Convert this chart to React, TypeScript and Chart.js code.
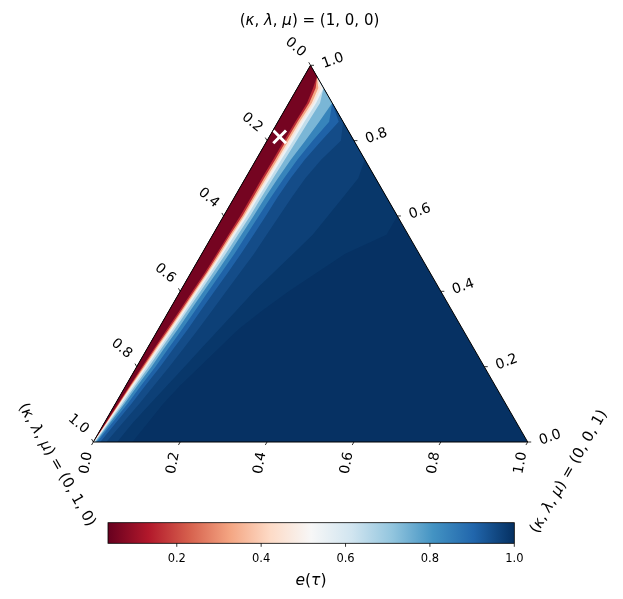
import React, { useEffect, useRef } from "react";
import { Chart, registerables } from "chart.js";

Chart.register(...registerables);

// ---- data ----
// κ rows (top vertex κ=1 down to bottom edge κ=0)
const kappaRows = [1.0, 0.97, 0.94, 0.9, 0.85, 0.8, 0.75, 0.7, 0.65, 0.6, 0.55, 0.5, 0.45, 0.4, 0.35, 0.3, 0.25, 0.2, 0.15, 0.1, 0.05, 0.0];

// μ position (distance from the left edge μ=0) where e(τ) crosses each level, per κ row.
// Value 1 = level not reached in that row (region fills up to the right edge).
const muLevel99 = [1, 1, 1, 1, 1, 1, 1, 1, 1, 1, 0.40, 0.33, 0.29, 0.25, 0.215, 0.185, 0.165, 0.145, 0.125, 0.11, 0.10, 0.09];
const muLevel97 = [1, 1, 1, 1, 1, 1, 1, 0.26, 0.25, 0.24, 0.23, 0.21, 0.19, 0.17, 0.155, 0.14, 0.125, 0.11, 0.095, 0.08, 0.065, 0.055];
const muLevel95 = [1, 1, 1, 1, 1, 0.17, 0.15, 0.138, 0.132, 0.128, 0.124, 0.12, 0.113, 0.106, 0.099, 0.092, 0.084, 0.075, 0.065, 0.055, 0.042, 0.03];
const muLevel88 = [1, 1, 1, 1, 0.14, 0.125, 0.112, 0.104, 0.099, 0.097, 0.094, 0.09, 0.085, 0.079, 0.073, 0.068, 0.061, 0.054, 0.045, 0.037, 0.026, 0.016];
const muLevel79 = [1, 1, 1, 1, 0.118, 0.105, 0.095, 0.089, 0.084, 0.081, 0.078, 0.075, 0.07, 0.065, 0.06, 0.055, 0.049, 0.043, 0.035, 0.028, 0.018, 0.009];
const muLevel69 = [1, 1, 1, 1, 0.095, 0.088, 0.08, 0.075, 0.071, 0.069, 0.066, 0.063, 0.059, 0.054, 0.049, 0.045, 0.039, 0.034, 0.027, 0.021, 0.013, 0.006];
const muLevel60 = [1, 1, 1, 0.072, 0.07, 0.068, 0.066, 0.064, 0.062, 0.061, 0.058, 0.055, 0.051, 0.047, 0.042, 0.038, 0.033, 0.028, 0.022, 0.017, 0.01, 0.004];
const muLevel50 = [1, 1, 0.06, 0.063, 0.061, 0.06, 0.058, 0.057, 0.055, 0.054, 0.051, 0.048, 0.045, 0.041, 0.037, 0.033, 0.028, 0.023, 0.018, 0.013, 0.008, 0.002];
const muLevel40 = [1, 1, 0.054, 0.058, 0.055, 0.054, 0.053, 0.052, 0.051, 0.05, 0.047, 0.045, 0.042, 0.038, 0.034, 0.03, 0.025, 0.02, 0.015, 0.011, 0.006, 0.001];
const muLevel27 = [1, 1, 0.048, 0.053, 0.05, 0.049, 0.049, 0.048, 0.047, 0.047, 0.044, 0.042, 0.039, 0.035, 0.031, 0.027, 0.022, 0.018, 0.013, 0.009, 0.005, 0];
const muLevel18 = [1, 1, 0.042, 0.047, 0.045, 0.044, 0.044, 0.043, 0.043, 0.043, 0.04, 0.038, 0.036, 0.032, 0.028, 0.024, 0.019, 0.015, 0.011, 0.008, 0.004, 0];
const muLevel10 = [1, 1, 0.036, 0.042, 0.04, 0.039, 0.039, 0.038, 0.038, 0.038, 0.036, 0.034, 0.032, 0.028, 0.024, 0.02, 0.016, 0.012, 0.009, 0.006, 0.003, 0];

// e(τ) shown in each region (outermost first), and background value
const bandLevels = [muLevel99, muLevel97, muLevel95, muLevel88, muLevel79, muLevel69, muLevel60, muLevel50, muLevel40, muLevel27, muLevel18, muLevel10];
const bandValues = [0.988, 0.972, 0.95, 0.91, 0.84, 0.74, 0.64, 0.55, 0.45, 0.33, 0.16, 0.055];
const backgroundValue = 0.998;

// marker (κ, μ)
const markerKappa = [0.81];
const markerMu = [0.024];

// axes
const ternaryTicks = [0.0, 0.2, 0.4, 0.6, 0.8, 1.0];
const cornerValues = [[1, 0, 0], [0, 1, 0], [0, 0, 1]];
const colorbarTicks = [0.2, 0.4, 0.6, 0.8, 1.0];
const colorMin = 0.037;
const colorMax = 1.0;

// RdBu colormap stops
const rdbuStops = ["#67001f", "#b2182b", "#d6604d", "#f4a582", "#fddbc7", "#f7f7f7", "#d1e5f0", "#92c5de", "#4393c3", "#2166ac", "#053061"];

function hexToRgb(h: string) {
  return [parseInt(h.slice(1, 3), 16), parseInt(h.slice(3, 5), 16), parseInt(h.slice(5, 7), 16)];
}
function cmap(v: number) {
  let n = (v - colorMin) / (colorMax - colorMin);
  n = Math.max(0, Math.min(1, n));
  const pos = n * 10;
  const i = Math.min(9, Math.floor(pos));
  const t = pos - i;
  const a = hexToRgb(rdbuStops[i]);
  const b = hexToRgb(rdbuStops[i + 1]);
  const c = a.map((x, j) => Math.round(x + (b[j] - x) * t));
  return `rgb(${c[0]},${c[1]},${c[2]})`;
}

// ternary (κ, μ) -> cartesian data coords
const tx = (k: number, m: number) => m + k / 2;

function contourPolygon(mu: number[]) {
  const pts = kappaRows.map((k, i) => {
    const m = Math.min(mu[i], 1 - k);
    return { x: tx(k, m), y: k };
  });
  pts.push({ x: 0, y: 0 });
  pts.push({ x: 0.5, y: 1 });
  return pts;
}

type Part = [string, boolean];
function drawRich(ctx: CanvasRenderingContext2D, parts: Part[], cx: number, cy: number, rotDeg: number, size: number) {
  ctx.save();
  ctx.translate(cx, cy);
  ctx.rotate((rotDeg * Math.PI) / 180);
  ctx.textBaseline = "middle";
  ctx.textAlign = "left";
  let total = 0;
  const widths = parts.map(([s, it]) => {
    ctx.font = `${it ? "italic " : ""}${size}px "DejaVu Sans"`;
    const w = ctx.measureText(s).width;
    total += w;
    return w;
  });
  let x = -total / 2;
  parts.forEach(([s, it], i) => {
    ctx.font = `${it ? "italic " : ""}${size}px "DejaVu Sans"`;
    ctx.fillStyle = "#000";
    ctx.fillText(s, x, 0);
    x += widths[i];
  });
  ctx.restore();
}

function cornerParts(v: number[]): Part[] {
  return [["(", false], ["κ", true], [", ", false], ["λ", true], [", ", false], ["μ", true], [") = (" + v.join(", ") + ")", false]];
}

const decorPlugin = {
  id: "ternaryDecor",
  afterDatasetsDraw(chart: any) {
    const ctx: CanvasRenderingContext2D = chart.ctx;
    const xs = chart.scales.x;
    const ys = chart.scales.y;
    const P = (k: number, m: number) => ({ x: xs.getPixelForValue(tx(k, m)), y: ys.getPixelForValue(k) });
    ctx.save();
    // triangle border
    const top = P(1, 0), bl = P(0, 0), br = P(0, 1);
    ctx.beginPath();
    ctx.moveTo(top.x, top.y);
    ctx.lineTo(bl.x, bl.y);
    ctx.lineTo(br.x, br.y);
    ctx.closePath();
    ctx.strokeStyle = "#000";
    ctx.lineWidth = 1;
    ctx.stroke();

    const tickLen = 3.5;
    const rt3 = Math.sqrt(3) / 2;
    ctx.lineWidth = 0.8;
    ternaryTicks.forEach((t) => {
      const label = t.toFixed(1);
      // bottom axis: μ
      let p = P(0, t);
      ctx.beginPath();
      ctx.moveTo(p.x, p.y);
      ctx.lineTo(p.x - 0.5 * tickLen, p.y + rt3 * tickLen);
      ctx.stroke();
      drawRich(ctx, [[label, false]], p.x - 7, p.y + 21, -80, 14);
      // right axis: κ
      p = P(t, 1 - t);
      ctx.beginPath();
      ctx.moveTo(p.x, p.y);
      ctx.lineTo(p.x + tickLen, p.y);
      ctx.stroke();
      drawRich(ctx, [[label, false]], p.x + 22.5, p.y - 4.5, -20, 14);
      // left axis: λ
      p = P(1 - t, 0);
      ctx.beginPath();
      ctx.moveTo(p.x, p.y);
      ctx.lineTo(p.x - 0.5 * tickLen, p.y - rt3 * tickLen);
      ctx.stroke();
      drawRich(ctx, [[label, false]], p.x - 15, p.y - 18, 40, 14);
    });

    // corner labels
    drawRich(ctx, cornerParts(cornerValues[0]), top.x - 1, top.y - 44.6, 0, 15);
    drawRich(ctx, cornerParts(cornerValues[1]), bl.x - 36.6, bl.y + 23, 60, 15);
    drawRich(ctx, cornerParts(cornerValues[2]), br.x + 41.3, br.y + 29.7, -60, 15);

    // colorbar
    const cbL = 108, cbR = 514.3, cbT = 522.7, cbB = 543.3;
    const grad = ctx.createLinearGradient(cbL, 0, cbR, 0);
    rdbuStops.forEach((c, i) => grad.addColorStop(i / 10, c));
    ctx.fillStyle = grad;
    ctx.fillRect(cbL, cbT, cbR - cbL, cbB - cbT);
    ctx.strokeStyle = "#000";
    ctx.lineWidth = 0.8;
    ctx.strokeRect(cbL, cbT, cbR - cbL, cbB - cbT);
    colorbarTicks.forEach((v) => {
      const x = cbL + ((v - colorMin) / (colorMax - colorMin)) * (cbR - cbL);
      ctx.beginPath();
      ctx.moveTo(x, cbB);
      ctx.lineTo(x, cbB + 3.5);
      ctx.stroke();
      drawRich(ctx, [[v.toFixed(1), false]], x, 559.3, 0, 11.5);
    });
    drawRich(ctx, [["e", true], ["(", false], ["τ", true], [")", false]], 311, 581, 0, 15.5);
    ctx.restore();
  },
};

export default function App() {
  const ref = useRef<HTMLCanvasElement | null>(null);
  useEffect(() => {
    if (!ref.current) return;
    const datasets: any[] = [];
    datasets.push({
      label: "marker",
      data: markerKappa.map((k, i) => ({ x: tx(k, markerMu[i]), y: k })),
      showLine: false,
      pointStyle: "crossRot",
      pointRadius: 9,
      pointBorderWidth: 3,
      pointBorderColor: "#ffffff",
      pointBackgroundColor: "#ffffff",
      order: 0,
    });
    for (let i = bandLevels.length - 1; i >= 0; i--) {
      datasets.push({
        label: "e<" + bandValues[i],
        data: contourPolygon(bandLevels[i]),
        backgroundColor: cmap(bandValues[i]),
        borderWidth: 0,
        pointRadius: 0,
        fill: "shape",
        tension: 0,
        order: bandLevels.length - i,
      });
    }
    datasets.push({
      label: "background",
      data: [
        { x: 0.5, y: 1 },
        { x: 1, y: 0 },
        { x: 0, y: 0 },
        { x: 0.5, y: 1 },
      ],
      backgroundColor: cmap(backgroundValue),
      borderWidth: 0,
      pointRadius: 0,
      fill: "shape",
      tension: 0,
      order: 100,
    });
    const chart = new Chart(ref.current, {
      type: "line",
      data: { datasets },
      options: {
        responsive: false,
        animation: false,
        devicePixelRatio: 1,
        layout: { padding: { left: 93.3, right: 95.3, top: 65.3, bottom: 157 } },
        scales: {
          x: { type: "linear", min: 0, max: 1, display: false },
          y: { type: "linear", min: 0, max: 1, display: false },
        },
        plugins: { legend: { display: false }, tooltip: { enabled: false } },
        events: [],
      },
      plugins: [decorPlugin],
    } as any);
    return () => chart.destroy();
  }, []);
  return (
    <div style={{ position: "absolute", left: 0, top: 0, width: 623, height: 599, background: "#fff" }}>
      <canvas ref={ref} width={623} height={599} style={{ display: "block" }} />
    </div>
  );
}
